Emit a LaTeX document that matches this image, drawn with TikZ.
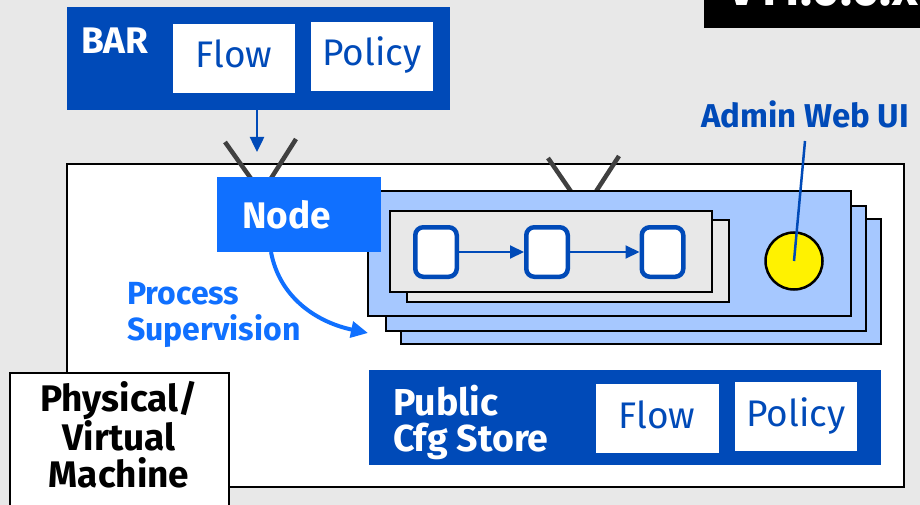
\documentclass[tikz,border=0pt]{standalone}
\usepackage{fontspec}
\setmainfont{Fira Sans}
\usetikzlibrary{arrows.meta}
\definecolor{darkblue}{RGB}{0,74,184}
\definecolor{brightblue}{RGB}{16,112,255}
\definecolor{lightblue}{RGB}{166,200,255}
\definecolor{bggray}{RGB}{232,232,232}
\definecolor{antgray}{RGB}{64,64,64}
\begin{document}
\begin{tikzpicture}[x=1pt,y=-1pt,
  rectbox/.style={inner sep=0pt, outer sep=0pt, anchor=north west},
  outlined/.style={rectbox, draw=black, line width=2.5pt},
  stackbox/.style={outlined, fill=lightblue},
  panelbox/.style={outlined, fill=bggray},
  whitebox/.style={rectbox, fill=white},
  bluebox/.style={rectbox, fill=darkblue},
  stepsq/.style={draw=darkblue, fill=white, line width=4.5pt, rounded corners=8pt,
    minimum width=41.5pt, minimum height=49.5pt, inner sep=0pt},
  antenna/.style={draw=antgray, line width=4.5pt},
  boldwhite/.style={text=white, font=\bfseries\fontsize{37}{38}\selectfont, inner sep=0pt},
  plaintext/.style={text=darkblue, font=\fontsize{37}{38}\selectfont, inner sep=0pt, anchor=base},
  flowarrow/.style={draw=darkblue, line width=2pt, -{Triangle[length=14pt,width=13pt]}},
]
\path[fill=bggray] (0,0) rectangle (920,505);
\useasboundingbox (0,0) rectangle (920,505);

% version banner (cut off at the top)
\node[rectbox, fill=black, minimum width=216pt, minimum height=28pt] (ver) at (704,0) {};
\node[anchor=base west, text=white, inner sep=0pt, font=\bfseries\fontsize{50}{52}\selectfont] (vertext) at (727,6) {V11.0.0.x};

% BAR
\node[bluebox, minimum width=383pt, minimum height=103pt] (bar) at (67,7) {};
\node[boldwhite, anchor=base west] (bartext) at (81,54) {BAR};
\node[whitebox, minimum width=122pt, minimum height=69pt] (barflow) at (173,24) {};
\node[whitebox, minimum width=122pt, minimum height=69pt] (barpolicy) at (311,22) {};
\node[plaintext] (barflowtext) at (234,68) {Flow};
\node[plaintext] (barpolicytext) at (372,66) {Policy};

% machine
\node[outlined, fill=white, minimum width=837pt, minimum height=323pt] (machine) at (67,164) {};

% antennas
\draw[antenna] (225,142) -- (252,180);
\draw[antenna] (296,139) -- (270,180);
\draw[antenna] (548,158) -- (572,193);
\draw[antenna] (619,156) -- (595,193);

% BAR arrow
\coordinate (barTip) at (257,152);
\draw[draw=darkblue, line width=2.5pt, -{Triangle[length=15pt,width=14pt]}] (bar.south -| barTip) -- (barTip);

% stacked integration servers
\node[stackbox, minimum width=480pt, minimum height=125pt] (stack3) at (401,219) {};
\node[stackbox, minimum width=480pt, minimum height=125pt] (stack2) at (386,206) {};
\node[stackbox, minimum width=483pt, minimum height=125pt] (stack1) at (368,191) {};
\node[panelbox, minimum width=322pt, minimum height=82pt] (panel2) at (407,220) {};
\node[panelbox, minimum width=322pt, minimum height=81pt] (panel1) at (390,211) {};

\node[stepsq] (sq1) at (436,252) {};
\node[stepsq] (sq2) at (547,252) {};
\node[stepsq] (sq3) at (662.5,252) {};
\draw[flowarrow] (sq1.east) -- (sq2.west);
\draw[flowarrow] (sq2.east) -- (sq3.west);

\node[circle, draw=black, line width=2.5pt, fill=yellow, minimum size=57pt, inner sep=0pt] (ui) at (794,261) {};

% Node
\node[rectbox, fill=brightblue, minimum width=164pt, minimum height=75pt] (nodebox) at (217,177) {};
\node[boldwhite, anchor=base west] (nodetext) at (242,228) {Node};

% process supervision
\coordinate (supTip) at (368,333);
\draw[draw=brightblue, line width=4pt, -{Triangle[length=17pt,width=16pt]}]
  ([xshift=54pt]nodebox.south west) .. controls (280,300) and (320,323) .. (supTip);
\node[anchor=north west, inner sep=0pt, align=left, text=brightblue,
  font=\bfseries\fontsize{32}{36}\selectfont] (suptext) at (127,282) {Process\\Supervision};

% admin web UI
\node[anchor=base west, inner sep=0pt, text=darkblue, font=\bfseries\fontsize{33}{34}\selectfont] (admintext) at (701,128) {Admin Web UI};
\coordinate (adminFoot) at (805,141);
\draw[draw=darkblue, line width=2.5pt] (adminFoot) -- (ui.center);

% physical/virtual machine label
\node[rectbox, draw=black, line width=2pt, fill=white, minimum width=219pt, minimum height=150pt] (pvm) at (10,373) {};
\node[inner sep=0pt, align=center, text=black, font=\bfseries\fontsize{37}{37}\selectfont] (pvmtext) at (119,435) {Physical/\\Virtual\\Machine};

% public cfg store
\node[bluebox, minimum width=512pt, minimum height=95pt] (cfg) at (369,370) {};
\node[anchor=north west, inner sep=0pt, align=left, text=white,
  font=\bfseries\fontsize{37.5}{36}\selectfont] (cfgtext) at (393,385) {Public\\Cfg Store};
\node[whitebox, minimum width=123pt, minimum height=69pt] (cfgflow) at (596,384) {};
\node[whitebox, minimum width=122pt, minimum height=69pt] (cfgpolicy) at (735,382) {};
\node[plaintext] (cfgflowtext) at (657,428) {Flow};
\node[plaintext] (cfgpolicytext) at (796,426) {Policy};
\end{tikzpicture}
\end{document}
